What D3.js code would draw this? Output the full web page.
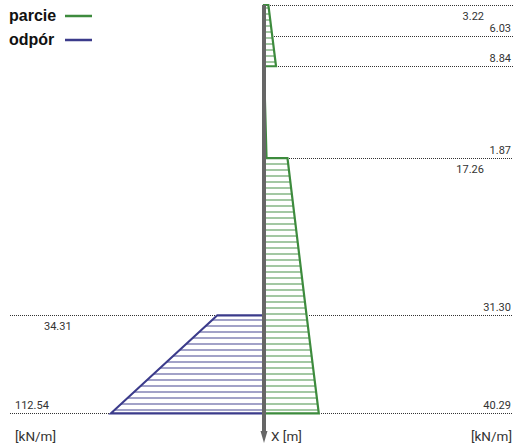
<!DOCTYPE html>
<html>
<head>
<meta charset="utf-8">
<script src="https://cdn.jsdelivr.net/npm/d3@7"></script>
<style>
  body { margin: 0; background: #fff; }
  svg { display: block; }
</style>
</head>
<body>
<div id="chart"></div>
<script>
// earth pressure profiles, depth in m, pressure in kN/m
const parcieDepth = [0, 0.75, 1.5, 1.5, 3.75, 3.75, 7.6, 10];
const parcieValue = [3.22, 6.03, 8.84, 0, 1.87, 17.26, 31.30, 40.29];
const odporDepth = [7.6, 7.6, 10];
const odporValue = [0, 34.31, 112.54];
const legendNames = ["parcie", "odpór"];
const unitLabels = ["[kN/m]", "X [m]", "[kN/m]"];

const width = 515, height = 448;
const green = "#3d8b3d", greenHatch = "#a3c8a3";
const purple = "#3b3b8b", purpleHatch = "#a2a2c8";

const y = d3.scaleLinear().domain([0, 10]).range([5, 413.3]);
const x = d3.scaleLinear().domain([0, 100]).range([264, 400]);

const svg = d3.select("#chart").append("svg")
  .attr("width", width)
  .attr("height", height)
  .style("font-family", "Roboto, sans-serif");

// hatch patterns
const defs = svg.append("defs");
[["hatchG", greenHatch], ["hatchP", purpleHatch]].forEach(([id, c]) => {
  const p = defs.append("pattern")
    .attr("id", id)
    .attr("patternUnits", "userSpaceOnUse")
    .attr("width", 10).attr("height", 6)
    .attr("y", 1);
  p.append("rect").attr("x", 0).attr("y", 0).attr("width", 10).attr("height", 2).attr("fill", c);
});

function profile(depths, values, sign) {
  const pts = depths.map((d, i) => [x(sign * values[i]), y(d)]);
  pts.unshift([x(0), y(depths[0])]);
  pts.push([x(0), y(depths[depths.length - 1])]);
  return pts;
}

const line = d3.line();
const parciePts = profile(parcieDepth, parcieValue, 1);
const odporPts = profile(odporDepth, odporValue, -1);

svg.append("path").attr("d", line(parciePts) + "Z")
  .attr("fill", "url(#hatchG)").attr("stroke", green).attr("stroke-width", 2.2)
  .attr("stroke-linejoin", "miter");
svg.append("path").attr("d", line(odporPts) + "Z")
  .attr("fill", "url(#hatchP)").attr("stroke", purple).attr("stroke-width", 2.2)
  .attr("stroke-linejoin", "miter");

// dotted guide lines: from the edge of each profile out to the margin
function guides(depths, values, sign, edge) {
  const byDepth = d3.rollup(depths.map((d, i) => [d, values[i]]), v => d3.max(v, e => e[1]), e => e[0]);
  svg.append("g").selectAll("line")
    .data(Array.from(byDepth))
    .join("line")
    .attr("x1", d => Math.round(x(sign * d[1]) + sign * 2))
    .attr("x2", edge)
    .attr("y1", d => Math.round(y(d[0])) + 0.5)
    .attr("y2", d => Math.round(y(d[0])) + 0.5)
    .attr("stroke", "#333")
    .attr("stroke-width", 1)
    .attr("stroke-dasharray", "1,1");
}
guides(parcieDepth, parcieValue, 1, 513);
guides(odporDepth, odporValue, -1, 10);

// value labels
function labels(depths, values, side) {
  const items = depths.map((d, i) => ({
    d, v: values[i],
    below: i === 0 || depths[i - 1] === d
  })).filter(e => e.v !== 0);
  svg.append("g").selectAll("text")
    .data(items)
    .join("text")
    .attr("x", e => side > 0 ? (e.below ? 484 : 511) : (e.below ? 44 : 15))
    .attr("y", e => y(e.d) + (e.below ? 15 : -4))
    .attr("text-anchor", side > 0 ? "end" : "start")
    .attr("font-size", 11)
    .attr("fill", "#333")
    .text(e => e.v.toFixed(2));
}
labels(parcieDepth, parcieValue, 1);
labels(odporDepth, odporValue, -1);

// vertical axis with arrow
svg.append("line")
  .attr("x1", x(0)).attr("x2", x(0))
  .attr("y1", 5).attr("y2", 433)
  .attr("stroke", "#666").attr("stroke-width", 4);
svg.append("path")
  .attr("d", `M${x(0) - 3.5},431 L${x(0) + 3.5},431 L${x(0)},443 Z`)
  .attr("fill", "#666");

svg.append("text").attr("x", 15).attr("y", 441).attr("font-size", 13.5).attr("fill", "#333").text(unitLabels[0]);
svg.append("text").attr("x", 271).attr("y", 441).attr("font-size", 13.5).attr("fill", "#333").text(unitLabels[1]);
svg.append("text").attr("x", 512).attr("y", 441).attr("font-size", 13.5).attr("fill", "#333")
  .attr("text-anchor", "end").text(unitLabels[2]);

// legend
const legend = svg.append("g").style("font-family", "'Liberation Sans', Arial, sans-serif");
[[legendNames[0], green, 21], [legendNames[1], purple, 45]].forEach(([name, c, by]) => {
  legend.append("text").attr("x", 9).attr("y", by)
    .attr("font-size", 16).attr("font-weight", "bold").attr("fill", "#111").text(name);
  legend.append("line").attr("x1", 65).attr("x2", 92).attr("y1", by - 5).attr("y2", by - 5)
    .attr("stroke", c).attr("stroke-width", 2.5);
});
</script>
</body>
</html>
